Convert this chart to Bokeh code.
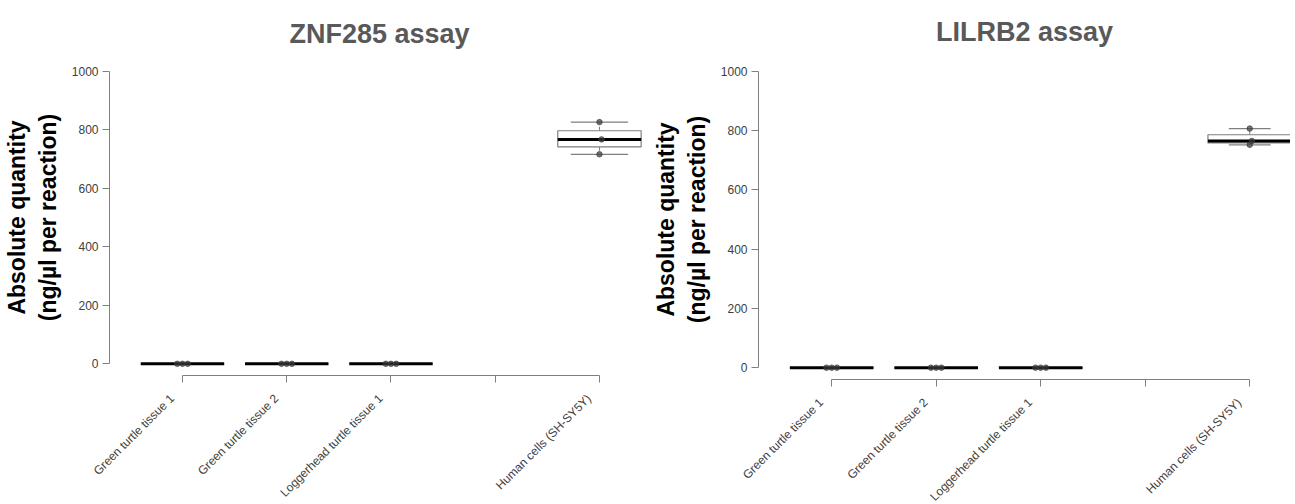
import numpy as np
from math import pi
from bokeh.plotting import figure
from bokeh.layouts import row
from bokeh.models import (FixedTicker, Range1d, LinearAxis, CustomJSTickFormatter,
                          CustomLabelingPolicy)
from bokeh.embed import file_html
from bokeh.resources import INLINE

# ---------------- data ----------------
tick_labels = ["Green turtle tissue 1", "Green turtle tissue 2",
               "Loggerhead turtle tissue 1", "", "Human cells (SH-SY5Y)"]
tick_positions = [1, 2, 3, 4, 5]
group_positions = [1, 2, 3, 5]

znf285_green1 = [0.0, 0.0, 0.0]
znf285_green2 = [0.0, 0.0, 0.0]
znf285_loggerhead = [0.0, 0.0, 0.0]
znf285_human = [826.0, 767.0, 716.0]

lilrb2_green1 = [0.0, 0.0, 0.0]
lilrb2_green2 = [0.0, 0.0, 0.0]
lilrb2_loggerhead = [0.0, 0.0, 0.0]
lilrb2_human = [807.0, 765.0, 752.0]

y_ticks = [0, 200, 400, 600, 800, 1000]

# small horizontal jitter of the replicate dots (style, in x units)
JITTER = [-0.05, 0.0, 0.05]
JITTER_HUMAN = [0.0, 0.02, 0.0]
LABEL_SHIFT = 0.1   # rotated tick labels sit slightly left of their tick
Y0, Y1 = -40, 1040
X0 = 0.3


def fivenum(v):
    x = sorted(v)
    n = len(x)
    n4 = np.floor((n + 3) / 2) / 2
    d = [1, n4, (n + 1) / 2, n + 1 - n4, n]
    return [0.5 * (x[int(np.floor(di)) - 1] + x[int(np.ceil(di)) - 1]) for di in d]


def make_panel(title, groups, x_end, cap_w, left_border, top_border, fw, fh,
               title_standoff, title_offset):
    p = figure(frame_width=fw, frame_height=fh,
               x_range=Range1d(X0, x_end), y_range=Range1d(Y0, Y1),
               output_backend="svg", toolbar_location=None,
               min_border_left=left_border, min_border_top=top_border,
               min_border_right=0, min_border_bottom=100)
    p.outline_line_color = None
    p.xgrid.visible = False
    p.ygrid.visible = False
    p.background_fill_color = "white"

    p.title.text = title
    p.title.align = "center"
    p.title.text_font = "Liberation Sans"
    p.title.text_font_size = "27px"
    p.title.text_font_style = "bold"
    p.title.text_color = "#595959"
    p.title.standoff = title_standoff
    p.title.offset = title_offset

    bw = 0.8
    for pos, vals in zip(group_positions, groups):
        mn, q1, med, q3, mx = fivenum(vals)
        # whiskers
        p.segment(x0=[pos, pos], y0=[q3, q1], x1=[pos, pos], y1=[mx, mn],
                  line_color="#7f7f7f", line_width=1, line_dash="4 3")
        # caps
        p.segment(x0=[pos - cap_w / 2] * 2, y0=[mx, mn],
                  x1=[pos + cap_w / 2] * 2, y1=[mx, mn],
                  line_color="#7f7f7f", line_width=1.2)
        # box
        p.quad(left=[pos - bw / 2], right=[pos + bw / 2], bottom=[q1], top=[q3],
               fill_color="white", line_color="#7f7f7f", line_width=1.2)
        # median
        p.segment(x0=[pos - bw / 2], y0=[med], x1=[pos + bw / 2], y1=[med],
                  line_color="black", line_width=3)
        jit = JITTER_HUMAN if pos == 5 else JITTER
        p.scatter(x=[pos + j for j in jit], y=vals, size=5.5,
                  fill_color="#3a3a3a", line_color="#3a3a3a",
                  fill_alpha=0.7, line_alpha=0.7)

    for ax in (p.xaxis[0], p.yaxis[0]):
        ax.axis_line_color = "#7f7f7f"
        ax.major_tick_line_color = "#7f7f7f"
        ax.minor_tick_line_color = None
        ax.major_tick_out = 7
        ax.major_tick_in = 0
        ax.major_label_text_font = "Liberation Sans"
        ax.major_label_text_font_size = "12px"
        ax.major_label_text_color = "#404040"
        ax.major_label_standoff = 4

    # x axis: line and ticks only
    xa = p.xaxis[0]
    xa.ticker = FixedTicker(ticks=tick_positions)
    xa.major_label_text_font_size = "0px"
    xa.major_label_standoff = 0
    xa.major_label_policy = CustomLabelingPolicy(
        code="for (const i of indices) indices.unset(i)")
    xa.bounds = (1, 5)

    # rotated category labels on an extra, line-less axis
    shown = [(t, l) for t, l in zip(tick_positions, tick_labels) if l]
    xl = LinearAxis(ticker=FixedTicker(ticks=[t - LABEL_SHIFT for t, _ in shown]),
                    formatter=CustomJSTickFormatter(args=dict(labels=[l for _, l in shown]),
                                                    code="return labels[index];"))
    xl.axis_line_color = None
    xl.major_tick_line_color = None
    xl.minor_tick_line_color = None
    xl.major_tick_out = 0
    xl.major_tick_in = 0
    xl.major_label_orientation = pi / 4
    xl.major_label_standoff = 14
    xl.major_label_text_font = "Liberation Sans"
    xl.major_label_text_font_size = "12px"
    xl.major_label_text_color = "#404040"
    p.add_layout(xl, "below")

    ya = p.yaxis[0]
    ya.ticker = FixedTicker(ticks=y_ticks)
    ya.bounds = (0, 1000)
    ya.axis_label = "Absolute quantity\n(ng/\u00b5l per reaction)"
    ya.axis_label_text_font = "Liberation Sans"
    ya.axis_label_text_font_size = "23px"
    ya.axis_label_text_font_style = "bold"
    ya.axis_label_text_color = "black"
    ya.axis_label_standoff = 8
    return p


p1 = make_panel("ZNF285 assay",
                [znf285_green1, znf285_green2, znf285_loggerhead, znf285_human],
                x_end=5.48, cap_w=0.55, left_border=100, top_border=54, fw=540, fh=316,
                title_standoff=21, title_offset=-8)
p2 = make_panel("LILRB2 assay",
                [lilrb2_green1, lilrb2_green2, lilrb2_loggerhead, lilrb2_human],
                x_end=5.39, cap_w=0.4, left_border=107, top_border=59, fw=532, fh=320,
                title_standoff=26, title_offset=-13)

layout = row(p1, p2, spacing=0)
open("out.html", "w").write(file_html(layout, INLINE))
